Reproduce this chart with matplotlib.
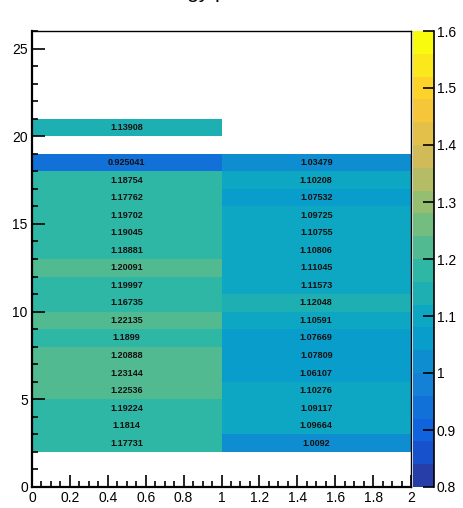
import numpy as np
import matplotlib
matplotlib.use("Agg")
import matplotlib.pyplot as plt
from matplotlib.colors import LinearSegmentedColormap, ListedColormap, BoundaryNorm
from matplotlib.ticker import MultipleLocator

plt.rcParams['font.family'] = ['Liberation Sans', 'DejaVu Sans']

# ---- data ----
title = "Energy profile"
x_edges = [0, 1, 2]
y_max = 26
# lower edge of each filled row
row_y = [2, 3, 4, 5, 6, 7, 8, 9, 10, 11, 12, 13, 14, 15, 16, 17, 18, 20]
left_vals = [1.17731, 1.1814, 1.19224, 1.22536, 1.23144, 1.20888, 1.1899,
             1.22135, 1.16735, 1.19997, 1.20091, 1.18881, 1.19045, 1.19702,
             1.17762, 1.18754, 0.925041, 1.13908]
right_vals = [1.0092, 1.09664, 1.09117, 1.10276, 1.06107, 1.07809, 1.07669,
              1.10591, 1.12048, 1.11573, 1.11045, 1.10806, 1.10755, 1.09725,
              1.07532, 1.10208, 1.03479, None]
z_min, z_max, n_levels = 0.8, 1.6, 20

# ---- ROOT kBird palette, 20 contour bands ----
stops = [0.0, 0.125, 0.25, 0.375, 0.5, 0.625, 0.75, 0.875, 1.0]
red = [0.2082, 0.0592, 0.0780, 0.0232, 0.1802, 0.5301, 0.8186, 0.9956, 0.9764]
green = [0.1664, 0.3599, 0.5041, 0.6419, 0.7178, 0.7492, 0.7328, 0.7862, 0.9832]
blue = [0.5293, 0.8684, 0.8385, 0.7914, 0.6425, 0.4662, 0.3499, 0.1968, 0.0539]
bird = LinearSegmentedColormap.from_list(
    "bird", list(zip(stops, zip(red, green, blue))), N=255)
band_cols = [bird((i + 0.99) / n_levels) for i in range(n_levels)]
cmap = ListedColormap(band_cols)
cmap.set_bad("white")
levels = np.linspace(z_min, z_max, n_levels + 1)
norm = BoundaryNorm(levels, n_levels)

grid = np.full((y_max, 2), np.nan)
for y, a, b in zip(row_y, left_vals, right_vals):
    grid[y, 0] = a if a is not None else np.nan
    grid[y, 1] = b if b is not None else np.nan

fig = plt.figure(figsize=(4.63, 5.08), dpi=100)
ax = fig.add_axes([32 / 463, 1 - 487 / 508, (411 - 32) / 463, (487 - 31) / 508])
cax = fig.add_axes([413 / 463, 1 - 487 / 508, (434 - 413) / 463, (487 - 31) / 508])

mesh = ax.pcolormesh(x_edges, np.arange(y_max + 1), np.ma.masked_invalid(grid),
                     cmap=cmap, norm=norm)

for y, a, b in zip(row_y, left_vals, right_vals):
    for xc, v in ((0.5, a), (1.5, b)):
        if v is None:
            continue
        ax.text(xc, y + 0.5, f"{v:g}", ha="center", va="center",
                fontsize=6.5, fontweight="bold", color="#111111")

ax.set_xlim(0, 2)
ax.set_ylim(0, y_max)
ax.xaxis.set_major_locator(MultipleLocator(0.2))
ax.xaxis.set_minor_locator(MultipleLocator(0.05))
ax.yaxis.set_major_locator(MultipleLocator(5))
ax.yaxis.set_minor_locator(MultipleLocator(1))
ax.xaxis.set_major_formatter(plt.FuncFormatter(lambda v, p: f"{round(v, 1):g}"))
ax.tick_params(which="both", direction="in", top=False, right=False,
               labelsize=10, width=1.2)
ax.tick_params(which="major", length=9, pad=3)
ax.tick_params(which="minor", length=4.5)
for s in ("left", "bottom"):
    ax.spines[s].set_linewidth(1.6)
for s in ("top", "right"):
    ax.spines[s].set_linewidth(1.0)

# palette axis
cb = fig.colorbar(mesh, cax=cax, ticks=np.arange(0.8, 1.61, 0.1))
cb.outline.set_visible(False)
cax.spines["right"].set_visible(True)
cax.spines["right"].set_linewidth(1.2)
cax.yaxis.set_major_formatter(plt.FuncFormatter(lambda v, p: f"{round(v, 1):g}"))
cax.tick_params(direction="in", length=8, width=1.2, labelsize=10, pad=2)
cax.minorticks_off()

# title sits mostly above the canvas, as in the reference
fig.text(207 / 463, 1.003, title, ha="center", va="baseline", fontsize=15)

fig.savefig("out.png", dpi=100)
